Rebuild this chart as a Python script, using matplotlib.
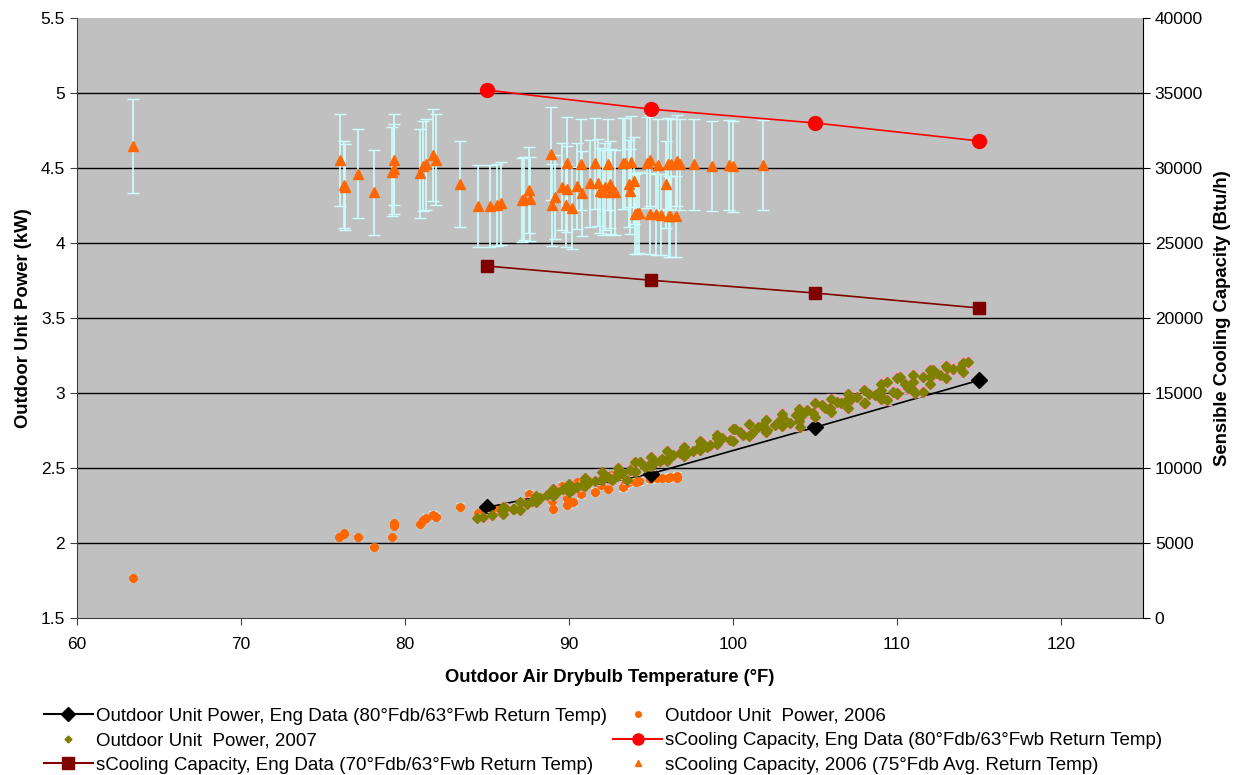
import numpy as np
import matplotlib
matplotlib.use("Agg")
import matplotlib.pyplot as plt
from matplotlib.lines import Line2D

plt.rcParams['font.family'] = ['Liberation Sans', 'DejaVu Sans']

# engineering data (80/63 and 70/63 return temps)
eng_temp = [85, 95, 105, 115]
eng_power = [2.236, 2.46, 2.769, 3.083]
eng_cap_80 = [35180, 33910, 32990, 31790]
eng_cap_70 = [23450, 22500, 21650, 20650]

# 2006 sensible cooling capacity (triangles, right axis)
cap06_temp = [63.41, 76.04, 76.26, 76.34, 77.15, 78.13, 79.31, 79.35, 79.23, 80.91,
              81.12, 81.28, 81.69, 81.89, 83.37, 84.43, 85.16, 85.63, 85.87, 87.13,
              87.26, 87.58, 87.62, 88.92, 88.98, 89.15, 89.57, 89.86, 89.84, 89.90,
              90.20, 90.51, 90.75, 90.81, 91.28, 91.60, 91.75, 91.91, 92.09, 92.21,
              92.36, 92.52, 92.58, 92.82, 93.29, 93.43, 93.66, 93.76, 93.74, 93.98,
              94.02, 94.16, 94.27, 94.74, 94.94, 94.96, 95.32, 95.45, 95.61, 95.90,
              96.04, 96.08, 96.18, 96.24, 96.54, 96.59, 96.79, 97.62, 98.74, 99.77,
              99.98, 101.85]
cap06_val = [31470, 30530, 28870, 28690, 29600, 28380, 30550, 29930, 29730, 29620,
             30110, 30240, 30840, 30550, 28910, 27450, 27450, 27530, 27640, 27840,
             27950, 28510, 27910, 30930, 27510, 28050, 28750, 28580, 27490, 30350,
             27310, 28800, 30240, 28290, 28980, 30290, 29000, 28470, 28360, 28750,
             30240, 28890, 28400, 28360, 30290, 30290, 28950, 30400, 28420, 29150,
             26910, 26980, 27000, 30350, 30490, 26950, 26890, 30200, 26870, 28890,
             30270, 26760, 26760, 30240, 26760, 30470, 30240, 30220, 30130, 30180,
             30090, 30180]

# 2006 outdoor unit power (circles, left axis)
pw06_temp = [63.41, 75.99, 76.26, 76.30, 77.13, 78.13, 79.23, 79.31, 79.35, 80.91,
             81.08, 81.26, 81.69, 81.89, 83.35, 84.43, 85.18, 85.63, 85.87, 87.13,
             87.24, 87.56, 88.95, 89.01, 89.59, 89.92, 89.86, 89.88, 90.23, 90.51,
             90.75, 91.60, 91.95, 92.36, 92.54, 92.62, 93.29, 93.41, 93.68, 93.80,
             93.96, 94.09, 94.29, 94.96, 95.35, 95.65, 96.05, 96.16, 96.57, 96.59]
pw06_val = [1.765, 2.040, 2.063, 2.057, 2.040, 1.969, 2.040, 2.113, 2.129, 2.125,
            2.151, 2.167, 2.187, 2.173, 2.240, 2.196, 2.213, 2.225, 2.229, 2.258,
            2.269, 2.325, 2.280, 2.225, 2.378, 2.371, 2.300, 2.253, 2.269, 2.403,
            2.323, 2.340, 2.383, 2.359, 2.449, 2.418, 2.371, 2.391, 2.403, 2.485,
            2.511, 2.407, 2.411, 2.425, 2.429, 2.433, 2.431, 2.440, 2.447, 2.433]

# 2007 outdoor unit power (diamonds, left axis)
pw07_temp = [84.41, 84.78, 85.29, 85.93, 86.60, 86.65, 87.46, 87.73, 88.23, 88.68,
             89.21, 89.65, 90.16, 90.47, 90.87, 91.24, 91.59, 91.99, 92.40, 92.60,
             92.91, 93.21, 93.52, 93.72, 94.02, 94.33, 94.63, 94.94, 95.24, 95.55,
             95.96, 96.36, 96.77, 97.18, 97.58, 98.05, 98.09, 98.40, 98.60, 99.31,
             99.82, 100.14, 100.63, 101.14, 101.75, 102.05, 102.56, 103.07, 103.48, 103.84,
             104.09, 104.49, 104.90, 105.41, 105.91, 106.32, 106.93, 107.54, 108.05, 108.66,
             109.17, 109.37, 109.37, 109.78, 109.98, 110.18, 110.69, 111.00, 111.10, 111.60,
             111.60, 112.01, 112.22, 112.62, 113.03, 113.44, 113.84, 114.35,
             86.10, 88.90, 91.00, 93.00, 95.70, 97.90, 99.00, 100.40, 101.50, 102.80,
             104.30, 105.60, 106.60, 107.20, 108.30, 109.00, 110.50, 112.40,
             # upper edge of the band
             86, 87, 88, 89, 90, 91, 92, 93, 94, 95, 96, 97, 98, 99, 100,
             101, 102, 103, 104, 105, 106, 107, 108, 109, 110, 111, 112, 113, 114,
             # lower edge of the band
             86, 87, 88, 89, 90, 91, 92, 93, 94, 95, 96, 97, 98, 99, 100,
             101, 102, 103, 104, 105, 106, 107, 108, 109, 110, 111, 112, 113, 114]
pw07_val = [2.165, 2.169, 2.183, 2.216, 2.225, 2.225, 2.258, 2.280, 2.298, 2.316,
            2.329, 2.356, 2.351, 2.369, 2.385, 2.403, 2.411, 2.423, 2.440, 2.418,
            2.447, 2.463, 2.418, 2.485, 2.473, 2.540, 2.507, 2.523, 2.536, 2.545,
            2.547, 2.585, 2.596, 2.600, 2.613, 2.667, 2.667, 2.640, 2.652, 2.696,
            2.685, 2.756, 2.718, 2.729, 2.778, 2.751, 2.785, 2.829, 2.796, 2.851,
            2.773, 2.884, 2.863, 2.918, 2.896, 2.940, 2.951, 2.973, 2.933, 2.985,
            2.963, 3.073, 2.951, 3.007, 2.996, 3.107, 3.029, 3.073, 3.000, 3.107,
            3.007, 3.107, 3.151, 3.118, 3.167, 3.158, 3.167, 3.203,
            2.230, 2.335, 2.410, 2.470, 2.560, 2.640, 2.700, 2.740, 2.770, 2.810,
            2.860, 2.900, 2.930, 2.960, 2.990, 3.020, 3.060, 3.130,
            2.24, 2.27, 2.31, 2.36, 2.39, 2.43, 2.47, 2.50, 2.54, 2.57, 2.61, 2.64, 2.68, 2.72, 2.76,
            2.79, 2.82, 2.86, 2.89, 2.93, 2.96, 2.99, 3.02, 3.06, 3.10, 3.12, 3.15, 3.18, 3.20,
            2.19, 2.22, 2.27, 2.31, 2.34, 2.38, 2.42, 2.45, 2.48, 2.51, 2.55, 2.58, 2.62, 2.66, 2.68,
            2.71, 2.74, 2.78, 2.81, 2.84, 2.87, 2.90, 2.93, 2.96, 2.99, 3.02, 3.06, 3.10, 3.14]

legend_labels = [
    "Outdoor Unit Power, Eng Data (80°Fdb/63°Fwb Return Temp)",
    "Outdoor Unit  Power, 2007",
    "sCooling Capacity, Eng Data (70°Fdb/63°Fwb Return Temp)",
    "Outdoor Unit  Power, 2006",
    "sCooling Capacity, Eng Data (80°Fdb/63°Fwb Return Temp)",
    "sCooling Capacity, 2006 (75°Fdb Avg. Return Temp)",
]

ORANGE = '#FF6600'
OLIVE = '#808000'
CYAN = '#CCFFFF'
PINK = '#FF99CC'

fig = plt.figure(figsize=(12.35, 7.75), dpi=100)
ax = fig.add_axes([0.0623, 0.203, 0.8632, 0.774])
ax.set_facecolor('#C0C0C0')

ax.set_xlim(60, 125)
ax.set_ylim(1.5, 5.5)
ax.set_xticks(range(60, 121, 10))
ax.set_yticks(np.arange(1.5, 5.51, 0.5))
ax.set_yticklabels(['1.5', '2', '2.5', '3', '3.5', '4', '4.5', '5', '5.5'])
for y in np.arange(2.0, 5.01, 0.5):
    ax.axhline(y, color='black', lw=1, zorder=1)

# power data on left axis
pw06 = np.array(pw06_val)
ax.errorbar(pw06_temp, pw06, yerr=0.01 * pw06, fmt='o', color=ORANGE, ms=5.5,
            ecolor=CYAN, elinewidth=1, capsize=3, zorder=3)
ax.plot(eng_temp, eng_power, color='black', lw=1.2, marker='D', ms=8, zorder=4)
pw07 = np.array(pw07_val)
ax.errorbar(pw07_temp, pw07, yerr=0.01 * pw07, fmt='D', color=OLIVE, ms=5.5,
            ecolor=PINK, elinewidth=1.5, capsize=3.5, zorder=5)

ax.spines['top'].set_visible(False)
ax.spines['right'].set_visible(False)
ax.spines['left'].set_color('#404040')
ax.spines['bottom'].set_color('#404040')
ax.tick_params(axis='both', labelsize=12.5, length=5, direction='out', color='#404040')
ax.tick_params(axis='x', pad=9)
ax.set_xlabel('Outdoor Air Drybulb Temperature (°F)', fontsize=13.3, fontweight='bold', labelpad=12)
ax.set_ylabel('Outdoor Unit Power (kW)', fontsize=13.3, fontweight='bold', labelpad=6)

# capacity data on right axis
ax2 = ax.twinx()
ax2.set_ylim(0, 40000)
ax2.set_yticks(range(0, 40001, 5000))
cap06 = np.array(cap06_val)
ax2.errorbar(cap06_temp, cap06, yerr=0.10 * cap06, fmt='^', color=ORANGE, ms=6.5,
             ecolor=CYAN, elinewidth=1.2, capsize=4.5, zorder=3)
ax2.plot(eng_temp, eng_cap_80, color='#FF0000', lw=1.2, marker='o', ms=10, zorder=4)
ax2.plot(eng_temp, eng_cap_70, color='#800000', lw=1.2, marker='s', ms=9, zorder=4)
for s in ['top', 'left', 'bottom']:
    ax2.spines[s].set_visible(False)
ax2.spines['right'].set_color('black')
ax2.tick_params(axis='y', labelsize=12.5, length=5, direction='out')
ax2.set_ylabel('Sensible Cooling Capacity (Btu/h)', fontsize=13.3, fontweight='bold', labelpad=8)

handles = [
    Line2D([], [], color='black', marker='D', ms=7),
    Line2D([], [], color=OLIVE, marker='D', ms=3.5, ls='none'),
    Line2D([], [], color='#800000', marker='s', ms=8),
    Line2D([], [], color=ORANGE, marker='o', ms=4, ls='none'),
    Line2D([], [], color='#FF0000', marker='o', ms=8),
    Line2D([], [], color=ORANGE, marker='^', ms=4.5, ls='none'),
]
fig.legend(handles, legend_labels, ncol=2, loc='upper left', bbox_to_anchor=(0.025, 0.104),
           frameon=False, fontsize=13.5, handlelength=2.6, handletextpad=0.15,
           labelspacing=0.39, columnspacing=0.35, borderpad=0.2)

fig.savefig('out.png', dpi=100)
